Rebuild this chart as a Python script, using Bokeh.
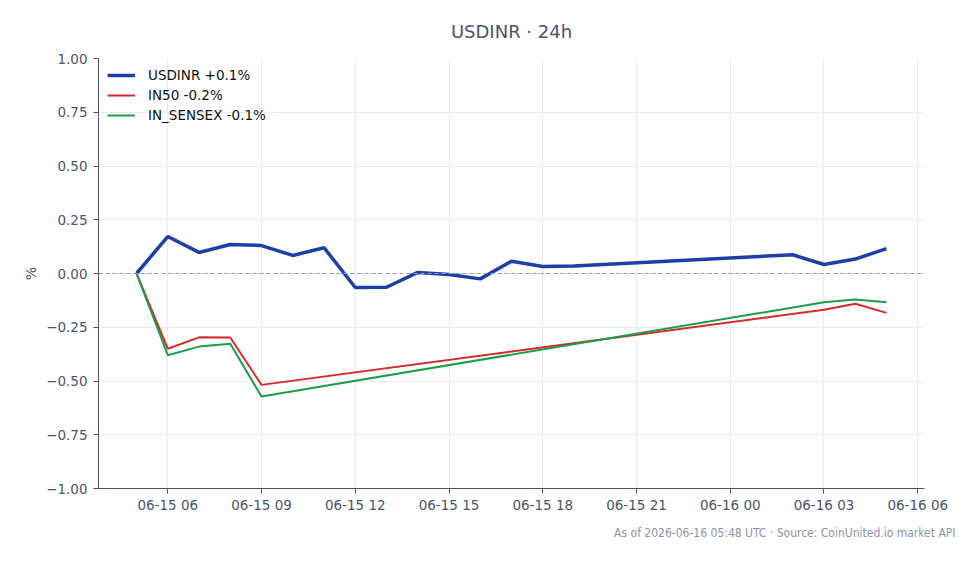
from datetime import datetime
from bokeh.plotting import figure
from bokeh.models import (ColumnDataSource, FixedTicker, DatetimeTickFormatter, Span,
                          Title, Range1d, Legend, LegendItem)
from bokeh.embed import file_html
from bokeh.resources import INLINE

# ---- data ----
usd_times = ["2026-06-15 05:00", "2026-06-15 06:00", "2026-06-15 07:00", "2026-06-15 08:00",
             "2026-06-15 09:00", "2026-06-15 10:00", "2026-06-15 11:00", "2026-06-15 12:00",
             "2026-06-15 13:00", "2026-06-15 14:00", "2026-06-15 15:00", "2026-06-15 16:00",
             "2026-06-15 17:00", "2026-06-15 18:00", "2026-06-15 19:00", "2026-06-16 02:00",
             "2026-06-16 03:00", "2026-06-16 04:00", "2026-06-16 05:00"]
usdinr = [0.0, 0.172, 0.098, 0.135, 0.130, 0.084, 0.120, -0.065, -0.064, 0.005, -0.005,
          -0.025, 0.057, 0.033, 0.035, 0.087, 0.042, 0.067, 0.116]

idx_times = ["2026-06-15 05:00", "2026-06-15 06:00", "2026-06-15 07:00", "2026-06-15 08:00",
             "2026-06-15 09:00", "2026-06-16 03:00", "2026-06-16 04:00", "2026-06-16 05:00"]
in50 = [0.0, -0.350, -0.297, -0.298, -0.518, -0.169, -0.141, -0.183]
in_sensex = [0.0, -0.380, -0.340, -0.327, -0.572, -0.134, -0.121, -0.134]

legend_labels = ["USDINR +0.1%", "IN50 -0.2%", "IN_SENSEX -0.1%"]
y_ticks = [-1.0, -0.75, -0.5, -0.25, 0.0, 0.25, 0.5, 0.75, 1.0]
x_tick_times = ["2026-06-15 06:00", "2026-06-15 09:00", "2026-06-15 12:00", "2026-06-15 15:00",
                "2026-06-15 18:00", "2026-06-15 21:00", "2026-06-16 00:00", "2026-06-16 03:00",
                "2026-06-16 06:00"]
title_text = "USDINR · 24h"
footer_text = "As of 2026-06-16 05:48 UTC · Source: CoinUnited.io market API"


def ts(s):
    return datetime.strptime(s, "%Y-%m-%d %H:%M")


def ms(s):
    return (ts(s) - datetime(1970, 1, 1)).total_seconds() * 1000.0


TXT = "#4a5568"
FONT = "DejaVu Sans"

p = figure(width=979, height=564, x_axis_type="datetime", output_backend="svg",
           toolbar_location=None, min_border_left=98, min_border_right=55,
           min_border_top=58, min_border_bottom=76,
           x_range=Range1d(ms("2026-06-15 03:47"), ms("2026-06-16 06:13")),
           y_range=Range1d(-1.0, 1.0))

p.title.text = title_text
p.title.align = "center"
p.title.text_font = FONT
p.title.text_font_size = "18px"
p.title.text_font_style = "normal"
p.title.text_color = TXT
p.title.standoff = 34

p.outline_line_color = None
p.background_fill_color = "white"
p.border_fill_color = "white"

for g in (p.xgrid, p.ygrid):
    g.grid_line_color = "#e8ebf0"
    g.grid_line_width = 1

p.xaxis.ticker = FixedTicker(ticks=[ms(t) for t in x_tick_times])
p.xaxis.formatter = DatetimeTickFormatter(hours="%m-%d %H", days="%m-%d %H", minutes="%m-%d %H")
p.yaxis.ticker = FixedTicker(ticks=y_ticks)
p.yaxis.major_label_overrides = {v: ("%.2f" % v).replace("-", "\u2212") for v in y_ticks}
p.yaxis.axis_label = "%"
p.yaxis.axis_label_text_font = FONT
p.yaxis.axis_label_text_font_size = "14px"
p.yaxis.axis_label_text_font_style = "normal"
p.yaxis.axis_label_text_color = TXT
p.yaxis.axis_label_standoff = 4

for ax in (p.xaxis, p.yaxis):
    ax.axis_line_color = TXT
    ax.major_tick_line_color = TXT
    ax.major_tick_out = 5
    ax.major_tick_in = 0
    ax.minor_tick_line_color = None
    ax.major_label_text_font = FONT
    ax.major_label_text_font_size = "13.5px"
    ax.major_label_text_color = TXT
p.xaxis.major_label_standoff = 3
p.yaxis.major_label_standoff = 6

p.add_layout(Span(location=0, dimension="width", line_color="#8fa0bd", line_width=1,
                  line_dash="4 3"))

src_u = ColumnDataSource(dict(x=[ts(t) for t in usd_times], y=usdinr))
src_i = ColumnDataSource(dict(x=[ts(t) for t in idx_times], a=in50, b=in_sensex))

r1 = p.line("x", "y", source=src_u, line_color="#1e3fa8", line_width=3.5)
r2 = p.line("x", "a", source=src_i, line_color="#d62b2b", line_width=2)
r3 = p.line("x", "b", source=src_i, line_color="#1a9e4a", line_width=2)

legend = Legend(items=[LegendItem(label=legend_labels[0], renderers=[r1]),
                       LegendItem(label=legend_labels[1], renderers=[r2]),
                       LegendItem(label=legend_labels[2], renderers=[r3])],
                location="top_left")
legend.background_fill_alpha = 0
legend.border_line_color = None
legend.label_text_font = FONT
legend.label_text_font_size = "13.5px"
legend.label_text_color = "#111111"
legend.glyph_width = 28
legend.label_height = 16
legend.glyph_height = 16
legend.label_standoff = 13
legend.spacing = 4
legend.margin = 9
legend.padding = 4
p.add_layout(legend)

footer = Title(text=footer_text, align="right", offset=-31, standoff=17,
               text_font="DejaVu Sans Condensed", text_font_size="12px",
               text_font_style="normal", text_color="#8a93a3")
p.add_layout(footer, "below")

open("out.html", "w").write(file_html(p, INLINE))
